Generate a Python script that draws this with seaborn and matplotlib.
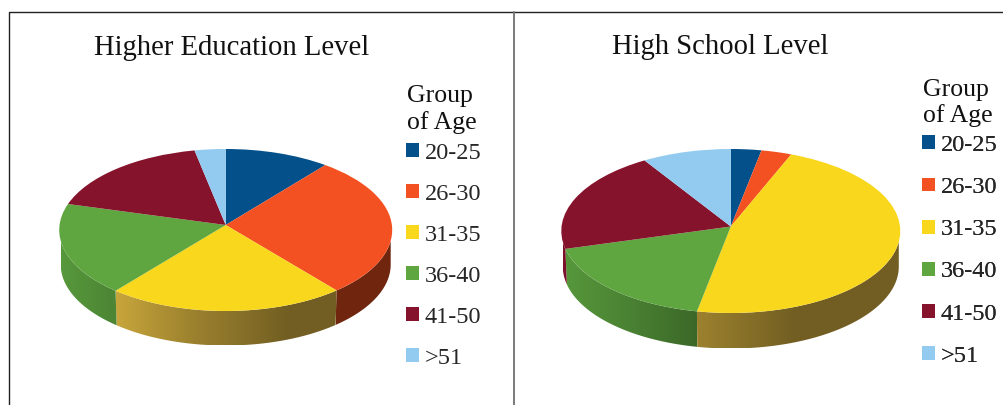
import numpy as np
import matplotlib
matplotlib.use("Agg")
import matplotlib.pyplot as plt
from matplotlib.colors import to_rgb
from matplotlib.patches import Polygon
from matplotlib.transforms import Transform
import seaborn as sns

age_groups = ["20-25", "26-30", "31-35", "36-40", "41-50", ">51"]
higher_education = [10.2, 28.2, 23.1, 18.7, 16.8, 3.0]
high_school = [2.9, 2.9, 47.4, 18.3, 20.0, 8.5]
slice_colors = ["#03508A", "#F45122", "#F9D71C", "#5FA641", "#86132C", "#93CBF0"]
rim_colors = ["#03508A", "#F45122", "#F8CE4A", "#5FA641", "#86132C", "#93CBF0"]

sns.set_theme(style="white")
plt.rcParams["font.family"] = ["Liberation Serif", "DejaVu Serif"]
palette = sns.color_palette(slice_colors)

fig = plt.figure(figsize=(10.04, 4.05), dpi=100, facecolor="white")
ax = fig.add_axes([0, 0, 1, 1])


class TiltedDisc(Transform):
    """Unit disc seen from above: an ellipse whose hub sits above its centre."""
    input_dims = output_dims = 2

    def __init__(self, cx, cy, rx, ry, hub_lift):
        super().__init__()
        self.cx, self.cy, self.rx, self.ry, self.hub_lift = cx, cy, rx, ry, hub_lift

    def transform_non_affine(self, values):
        x, y = np.asarray(values, float).T
        r = np.clip(np.hypot(x, y), 0, 1)
        return np.column_stack([
            self.cx + self.rx * x,
            self.cy - self.ry * y - self.hub_lift * (1 - r),
        ])


def wall_shade(offset):
    """Brightness of the rim as it turns away from the light on the left."""
    return np.interp(offset, [-1, -0.65, -0.2, 0.37, 1], [0.92, 0.80, 0.63, 0.46, 0.46])


def draw_pie(values, cx, cy, rx, ry, hub_lift, depth):
    # Rim of the disc: a horizontal gradient clipped to the front part of each slice.
    edges = np.concatenate([[0], np.cumsum(values)]) / np.sum(values) * 360
    rim_rx = rx - 1.5
    for start, stop, color in zip(edges[:-1], edges[1:], rim_colors):
        lo, hi = max(start, 90), min(stop, 270)
        if lo >= hi:
            continue
        theta = np.radians(np.linspace(lo, hi, 120))
        top_x = np.clip(cx + rx * np.sin(theta), cx - rim_rx, cx + rim_rx)
        top_y = cy - ry * np.cos(theta)
        low_x = cx + rim_rx * np.sin(theta)
        low_y = top_y + depth
        outline = np.column_stack([np.r_[top_x, low_x[::-1]], np.r_[top_y, low_y[::-1]]])
        x0, x1 = outline[:, 0].min(), outline[:, 0].max()
        columns = np.linspace(x0, x1, 256)
        gradient = np.outer(wall_shade((columns - cx) / rx), to_rgb(color))[np.newaxis, :, :]
        image = ax.imshow(gradient, extent=(x0, x1, outline[:, 1].max(), outline[:, 1].min()),
                          aspect="auto", interpolation="bilinear", zorder=1)
        image.set_clip_path(Polygon(outline, closed=True, transform=ax.transData))

    # Top face of the disc.
    wedges, _ = ax.pie(values, colors=palette, startangle=90, counterclock=False,
                       radius=1, frame=False)
    disc = TiltedDisc(cx, cy, rx, ry, hub_lift)
    for wedge in wedges:
        wedge.set_transform(disc + ax.transData)
        wedge.set_zorder(2)
        wedge.set_linewidth(0)
    return wedges


def draw_legend(wedges, x, y, heading_y, spacing):
    legend = ax.legend(wedges, age_groups, loc="upper left",
                       bbox_to_anchor=(x, y), bbox_transform=ax.transData,
                       frameon=False, fontsize=17.5,
                       handlelength=0.5, handleheight=0.5, handletextpad=0.25,
                       labelspacing=spacing, borderpad=0, borderaxespad=0)
    ax.add_artist(legend)
    ax.text(x + 0.5, heading_y, "Group\nof Age", ha="left", va="center",
            fontsize=18.5, linespacing=1.17, color="#111111")


left_wedges = draw_pie(higher_education, 225.7, 230, 166.5, 81, 5, 34.5)
right_wedges = draw_pie(high_school, 730.8, 231, 169.5, 82, 4.5, 35.5)

draw_legend(left_wedges, 406.5, 143, 109.5, 0.82)
draw_legend(right_wedges, 922.5, 135, 103, 0.87)

ax.text(232, 48, "Higher Education Level", ha="center", va="center",
        fontsize=20.6, color="#111111")
ax.text(720, 47, "High School Level", ha="center", va="center",
        fontsize=20.6, color="#111111")

# Panel frame
ax.plot([1004, 8.7, 8.7], [11.5, 11.5, 405], color="#222222", lw=1.0, zorder=3, clip_on=False)
ax.plot([514, 514], [11.5, 405], color="#707070", lw=1.3, zorder=3)

ax.set_aspect("auto")
ax.set_xlim(0, 1004)
ax.set_ylim(405, 0)
ax.axis("off")

fig.savefig("out.png", dpi=100, facecolor="white")
